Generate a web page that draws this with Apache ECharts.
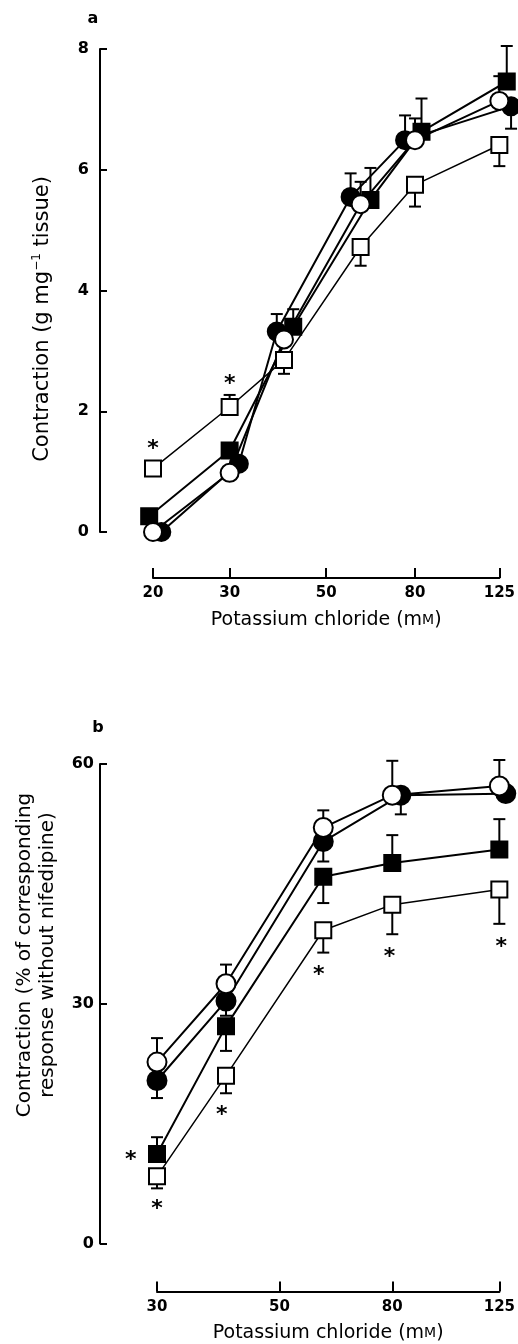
<!DOCTYPE html>
<html>
<head>
<meta charset="utf-8">
<script src="https://cdn.jsdelivr.net/npm/echarts@6/dist/echarts.min.js"></script>
<style>
  html, body { margin: 0; padding: 0; background: #fff; }
  #chart { width: 518px; height: 1344px; }
</style>
</head>
<body>
<div id="chart"></div>
<script type="text/javascript">

    // panel a: contraction (g mg-1 tissue) vs KCl (mM)
    var concA = [20, 30, 40, 60, 80, 125];
    var filledCircleXA = [20.9, 31.5, 38.5, 56.9, 75.9, 133];   // plotted slightly shifted
    var filledSquareXA = [19.6, 30, 42, 63.2, 82.8, 130];
    var openCircleA = [0, 0.98, 3.19, 5.43, 6.49, 7.14];
    var filledCircleA = [0, 1.13, 3.32, 5.55, 6.49, 7.05];
    var filledSquareA = [0.26, 1.35, 3.40, 5.50, 6.63, 7.46];
    var openSquareA = [1.05, 2.07, 2.85, 4.72, 5.75, 6.41];
    // error bar ends (null = not drawn)
    var openCircleErrA = [null, null, null, 5.8, 6.85, 7.55];
    var filledCircleErrA = [null, null, 3.61, 5.94, 6.90, 6.68];
    var filledSquareErrA = [null, null, 3.69, 6.03, 7.18, 8.05];
    var openSquareErrA = [null, 2.27, 2.62, 4.41, 5.39, 6.06];
    var starsA = [[20, 1.46], [30, 2.53]];
    var xTicksA = [20, 30, 50, 80, 125];

    // panel b: % of response without nifedipine
    var concB = [30, 40, 60, 80, 125];
    var filledCircleXB = [30, 40, 60, 82.9, 128.4];
    var openCircleB = [22.7, 32.5, 52.05, 56.1, 57.25];
    var filledCircleB = [20.4, 30.35, 50.3, 56.1, 56.3];
    var filledSquareB = [11.2, 27.2, 45.9, 47.6, 49.3];
    var openSquareB = [8.4, 21.0, 39.2, 42.4, 44.3];
    var openCircleErrB = [25.7, 34.9, 54.2, 60.4, 60.5];
    var filledCircleErrB = [18.2, 28.5, 47.8, 53.7, null];
    var filledSquareErrB = [13.3, 24.1, 42.6, 51.1, 53.1];
    var openSquareErrB = [6.9, 18.8, 36.4, 38.7, 40.0];
    var starsB = [[26.9, 11.1], [30, 4.9], [39.3, 16.7], [58.9, 34.2], [79.1, 36.5], [126, 37.7]];
    var xTicksB = [30, 50, 80, 125];

    var FONT = 'DejaVu Sans';
    var lg = Math.log10;

    function pts(xs, ys) {
        return xs.map(function (x, i) { return [lg(x), ys[i]]; });
    }

    function errPts(xs, ys, ends) {
        var out = [];
        ends.forEach(function (e, i) {
            if (e !== null) out.push([lg(xs[i]), ys[i], e]);
        });
        return out;
    }

    function lineSeries(idx, data, symbol, filled, size, width) {
        return {
            type: 'line', xAxisIndex: idx, yAxisIndex: idx, data: data,
            symbol: symbol, symbolSize: size, showSymbol: true, clip: false,
            lineStyle: {color: '#000', width: width},
            itemStyle: {color: filled ? '#000' : '#fff', borderColor: '#000', borderWidth: 2},
            z: 3
        };
    }

    function errSeries(idx, data) {
        return {
            type: 'custom', xAxisIndex: idx, yAxisIndex: idx, data: data, z: 2,
            renderItem: function (params, api) {
                var p0 = api.coord([api.value(0), api.value(1)]);
                var p1 = api.coord([api.value(0), api.value(2)]);
                return {
                    type: 'group', children: [
                        {type: 'line', shape: {x1: p0[0], y1: p0[1], x2: p1[0], y2: p1[1]}, style: {stroke: '#000', lineWidth: 2}},
                        {type: 'line', shape: {x1: p1[0] - 6, y1: p1[1], x2: p1[0] + 6, y2: p1[1]}, style: {stroke: '#000', lineWidth: 2}}
                    ]
                };
            }
        };
    }

    function starSeries(idx, data) {
        return {
            type: 'custom', xAxisIndex: idx, yAxisIndex: idx, z: 4,
            data: data.map(function (s) { return [lg(s[0]), s[1]]; }),
            renderItem: function (params, api) {
                var p = api.coord([api.value(0), api.value(1)]);
                return {
                    type: 'text', x: p[0], y: p[1] + 5,
                    style: {text: '*', font: 'bold 22px ' + FONT, fill: '#000', align: 'center', verticalAlign: 'middle'}
                };
            }
        };
    }

    function xAxisOpt(idx, ticks, offset, margin, gap) {
        var vals = ticks.map(lg);
        return {
            type: 'value', gridIndex: idx, min: vals[0], max: vals[vals.length - 1],
            position: 'bottom', offset: offset, splitLine: {show: false},
            axisLine: {onZero: false, lineStyle: {color: '#000', width: 2}},
            axisTick: {inside: true, length: 10, customValues: vals, lineStyle: {color: '#000', width: 2}},
            axisLabel: {
                customValues: vals, margin: margin, color: '#000', fontFamily: FONT, fontWeight: 'bold', fontSize: 15,
                formatter: function (v) { return Math.round(Math.pow(10, v)); }
            },
            name: '{n|Potassium chloride (m}{sc|M}{n|)}', nameLocation: 'middle', nameGap: gap,
            nameTextStyle: {
                rich: {
                    n: {fontFamily: FONT, fontSize: 19, lineHeight: 22, color: '#000'},
                    sc: {fontFamily: FONT, fontSize: 14, lineHeight: 22, color: '#000', verticalAlign: 'middle'}
                }
            }
        };
    }

    function yAxisOpt(idx, max, interval, offset, margin) {
        return {
            type: 'value', gridIndex: idx, min: 0, max: max, interval: interval,
            offset: offset, splitLine: {show: false},
            axisLine: {show: true, onZero: false, lineStyle: {color: '#000', width: 2}},
            axisTick: {show: true, inside: true, length: 7, lineStyle: {color: '#000', width: 2}},
            axisLabel: {margin: margin, color: '#000', fontFamily: FONT, fontWeight: 'bold', fontSize: 16}
        };
    }

    var option = {
        animation: false,
        backgroundColor: '#fff',
        grid: [
            {left: 153, top: 49, width: 352, height: 483},
            {left: 157, top: 764, width: 353, height: 481}
        ],
        xAxis: [
            xAxisOpt(0, xTicksA, 46, 8, 31),
            xAxisOpt(1, xTicksB, 48, 8, 31)
        ],
        yAxis: [
            yAxisOpt(0, 8, 2, 53, 11),
            yAxisOpt(1, 60, 30, 57, 6)
        ],
        graphic: [
            {type: 'text', x: 93, y: 19, style: {text: 'a', font: 'bold 16px ' + FONT, fill: '#000', align: 'center', verticalAlign: 'middle'}},
            {type: 'text', x: 98, y: 728, style: {text: 'b', font: 'bold 16px ' + FONT, fill: '#000', align: 'center', verticalAlign: 'middle'}},
            {
                type: 'text', x: 43, y: 319, rotation: Math.PI / 2,
                style: {
                    text: '{n|Contraction (g mg}{s|−1}{n| tissue)}', align: 'center', verticalAlign: 'middle',
                    rich: {
                        n: {fontFamily: FONT, fontSize: 21, lineHeight: 24, fill: '#000'},
                        s: {fontFamily: FONT, fontSize: 12, lineHeight: 12, verticalAlign: 'top', fill: '#000'}
                    }
                }
            },
            {
                type: 'text', x: 36, y: 955, rotation: Math.PI / 2,
                style: {
                    text: 'Contraction (% of corresponding\nresponse without nifedipine)',
                    font: '20px ' + FONT, lineHeight: 23, fill: '#000', align: 'center', verticalAlign: 'middle'
                }
            }
        ],
        series: [
            errSeries(0, errPts(filledCircleXA, filledCircleA, filledCircleErrA)),
            errSeries(0, errPts(filledSquareXA, filledSquareA, filledSquareErrA)),
            errSeries(0, errPts(concA, openSquareA, openSquareErrA)),
            errSeries(0, errPts(concA, openCircleA, openCircleErrA)),
            lineSeries(0, pts(filledCircleXA, filledCircleA), 'circle', true, 18, 2),
            lineSeries(0, pts(filledSquareXA, filledSquareA), 'rect', true, 16, 2),
            lineSeries(0, pts(concA, openSquareA), 'rect', false, 16, 1.5),
            lineSeries(0, pts(concA, openCircleA), 'circle', false, 18, 2),
            starSeries(0, starsA),

            errSeries(1, errPts(filledCircleXB, filledCircleB, filledCircleErrB)),
            errSeries(1, errPts(concB, filledSquareB, filledSquareErrB)),
            errSeries(1, errPts(concB, openSquareB, openSquareErrB)),
            errSeries(1, errPts(concB, openCircleB, openCircleErrB)),
            lineSeries(1, pts(filledCircleXB, filledCircleB), 'circle', true, 19, 2),
            lineSeries(1, pts(concB, filledSquareB), 'rect', true, 16, 2),
            lineSeries(1, pts(concB, openSquareB), 'rect', false, 16, 1.5),
            lineSeries(1, pts(concB, openCircleB), 'circle', false, 19, 2),
            starSeries(1, starsB)
        ]
    };

    var myChart = echarts.init(document.getElementById('chart'), null, {renderer: 'canvas'});
    myChart.setOption(option);
</script>
</body>
</html>
